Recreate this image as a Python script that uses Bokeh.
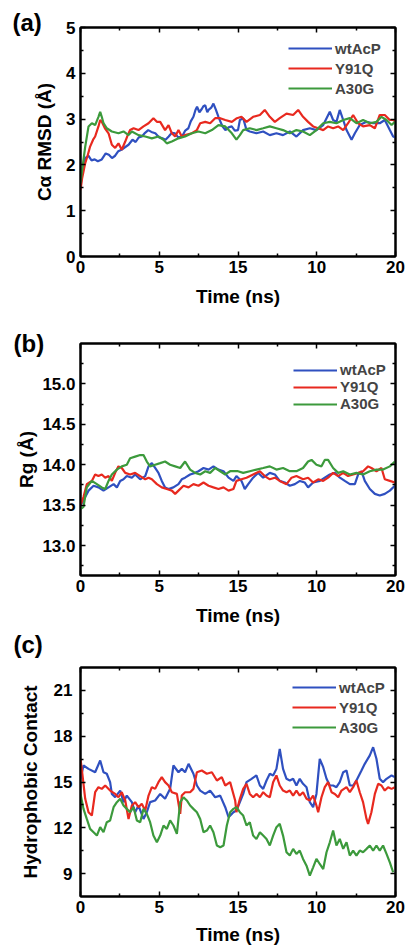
from bokeh.plotting import figure
from bokeh.models import (FixedTicker, LinearAxis, Range1d, Legend, LegendItem, Label,
                          NumeralTickFormatter, CustomJSTickFormatter)
from bokeh.core.properties import value
from bokeh.layouts import column
from bokeh.embed import file_html
from bokeh.resources import INLINE

# ---------------- data ----------------
series_names = ["wtAcP", "Y91Q", "A30G"]
x_ticks = [0, 5, 10, 15, 20]
x_tick_labels = ["0", "5", "15", "10", "20"]
x_minor = [2.5, 7.5, 12.5, 17.5]

# (a) C-alpha RMSD
rmsd_t_wt = [0.0, 0.1, 0.3, 0.5, 0.7, 0.9, 1.1, 1.35, 1.6, 1.8,
             2.0, 2.2, 2.4, 2.6, 2.8, 3.05, 3.3, 3.5, 3.7, 3.9,
             4.1, 4.3, 4.5, 4.75, 5.0, 5.2, 5.4, 5.6, 5.8, 6.0,
             6.2, 6.45, 6.65, 6.85, 7.0, 7.17, 7.3, 7.4, 7.55, 7.7,
             7.8, 7.92, 8.05, 8.13, 8.3, 8.44, 8.6, 8.76, 9.0, 9.2,
             9.4, 9.6, 9.8, 10.0, 10.12, 10.33, 10.54, 10.75, 11.17, 11.6,
             12.02, 12.44, 12.86, 13.29, 13.71, 14.13, 14.56, 14.98, 15.41, 15.83,
             16.04, 16.25, 16.46, 16.68, 16.89, 17.21, 17.42, 17.73, 18.16, 18.58,
             19.0, 19.32, 19.64, 19.85, 20.0]
rmsd_wt = [1.5, 1.9, 2.15, 2.2, 2.1, 2.12, 2.08, 2.12, 2.25, 2.22,
           2.15, 2.2, 2.3, 2.33, 2.38, 2.44, 2.55, 2.5, 2.6, 2.62,
           2.7, 2.76, 2.72, 2.69, 2.6, 2.58, 2.55, 2.62, 2.7, 2.69,
           2.6, 2.62, 2.75, 2.8, 2.95, 3.05, 3.2, 3.27, 3.15, 3.22,
           3.28, 3.3, 3.15, 3.2, 3.25, 3.34, 3.2, 3.05, 2.85, 2.76,
           2.82, 2.84, 2.75, 2.76, 2.98, 3.02, 2.76, 2.73, 2.69, 2.73,
           2.65, 2.69, 2.65, 2.73, 2.62, 2.76, 2.8, 2.76, 2.87, 3.16,
           2.98, 2.94, 3.2, 2.98, 2.76, 2.55, 2.69, 2.87, 2.94, 2.91,
           2.91, 2.98, 2.76, 2.62, 2.6]
rmsd_t_y91 = [0.0, 0.1, 0.3, 0.45, 0.61, 0.8, 0.93, 1.14, 1.25, 1.35,
              1.55, 1.78, 1.99, 2.2, 2.41, 2.62, 2.84, 3.0, 3.15, 3.37,
              3.68, 4.0, 4.32, 4.63, 4.85, 5.06, 5.37, 5.59, 5.8, 6.01,
              6.22, 6.43, 6.64, 7.07, 7.39, 7.6, 7.92, 8.23, 8.55, 8.87,
              9.19, 9.61, 9.93, 10.22, 10.54, 10.96, 11.39, 11.7, 12.02, 12.34,
              12.65, 13.08, 13.5, 13.82, 14.13, 14.45, 14.77, 15.09, 15.41, 15.72,
              16.04, 16.36, 16.68, 16.99, 17.31, 17.63, 17.94, 18.37, 18.69, 19.0,
              19.32, 19.64, 19.85, 20.0]
rmsd_y91 = [1.45, 1.7, 2.04, 2.2, 2.4, 2.55, 2.62, 2.84, 2.98, 2.94,
            2.8, 2.69, 2.44, 2.37, 2.47, 2.33, 2.51, 2.65, 2.76, 2.8,
            2.76, 2.84, 2.91, 3.02, 2.94, 2.94, 2.76, 2.87, 2.69, 2.62,
            2.76, 2.62, 2.65, 2.69, 2.76, 2.91, 2.94, 2.91, 3.02, 3.02,
            2.98, 2.94, 3.02, 3.05, 2.94, 3.05, 3.09, 3.2, 3.05, 2.94,
            3.02, 3.12, 3.09, 3.2, 3.05, 2.94, 2.84, 2.8, 2.76, 2.84,
            2.8, 2.84, 2.76, 2.91, 3.09, 2.91, 2.84, 2.87, 2.8, 3.09,
            3.09, 2.98, 2.98, 2.95]
rmsd_t_a30 = [0.0, 0.08, 0.3, 0.51, 0.72, 0.93, 1.14, 1.25, 1.35, 1.46,
              1.67, 1.99, 2.41, 2.73, 3.05, 3.26, 3.68, 4.11, 4.53, 4.95,
              5.27, 5.48, 5.8, 6.22, 6.64, 7.07, 7.49, 7.92, 8.34, 8.76,
              9.19, 9.61, 9.9, 10.12, 10.33, 10.75, 11.17, 11.6, 12.02, 12.44,
              12.86, 13.29, 13.71, 14.13, 14.56, 14.98, 15.41, 15.83, 16.25, 16.68,
              17.1, 17.52, 17.94, 18.37, 18.79, 19.11, 19.43, 19.75, 19.96]
rmsd_a30 = [1.6, 1.83, 2.4, 2.84, 2.91, 2.87, 3.05, 3.16, 3.05, 2.91,
            2.8, 2.73, 2.69, 2.73, 2.65, 2.73, 2.65, 2.62, 2.58, 2.62,
            2.55, 2.47, 2.51, 2.58, 2.62, 2.69, 2.73, 2.69, 2.76, 2.87,
            2.84, 2.69, 2.55, 2.65, 2.76, 2.8, 2.76, 2.8, 2.84, 2.8,
            2.76, 2.69, 2.76, 2.73, 2.65, 2.76, 2.91, 2.94, 2.91, 2.98,
            3.02, 2.91, 2.98, 2.91, 2.94, 3.05, 2.98, 2.87, 2.94]

# (b) Radius of gyration
rg_t_wt = [0.0, 0.19, 0.51, 0.83, 1.14, 1.46, 1.78, 2.1, 2.31, 2.52,
           2.73, 2.94, 3.26, 3.47, 3.79, 4.11, 4.32, 4.53, 4.74, 4.95,
           5.16, 5.37, 5.59, 5.9, 6.22, 6.43, 6.64, 6.96, 7.28, 7.49,
           7.81, 8.13, 8.44, 8.76, 9.08, 9.4, 9.71, 9.9, 10.22, 10.43,
           10.65, 10.96, 11.28, 11.6, 12.02, 12.34, 12.65, 12.97, 13.29, 13.61,
           13.93, 14.24, 14.45, 14.77, 15.2, 15.51, 15.83, 16.15, 16.47, 16.78,
           17.1, 17.42, 17.63, 17.84, 18.05, 18.37, 18.69, 19.0, 19.32, 19.64,
           19.96]
rg_wt = [13.5, 13.56, 13.68, 13.74, 13.72, 13.68, 13.72, 13.76, 13.72, 13.8,
         13.82, 13.86, 13.84, 13.88, 13.82, 13.86, 13.98, 14.02, 13.96, 13.9,
         13.8, 13.72, 13.7, 13.72, 13.76, 13.82, 13.84, 13.88, 13.9, 13.92,
         13.96, 13.94, 13.98, 13.94, 13.92, 13.84, 13.8, 13.86, 13.8, 13.7,
         13.76, 13.84, 13.9, 13.84, 13.9, 13.88, 13.8, 13.78, 13.74, 13.76,
         13.8, 13.78, 13.72, 13.78, 13.8, 13.84, 13.88, 13.9, 13.84, 13.8,
         13.76, 13.76, 13.88, 13.92, 13.8, 13.7, 13.64, 13.62, 13.64, 13.68,
         13.74]
rg_t_y91 = [0.0, 0.19, 0.4, 0.72, 0.93, 1.14, 1.35, 1.57, 1.78, 1.99,
            2.2, 2.41, 2.62, 2.84, 3.15, 3.47, 3.79, 4.11, 4.32, 4.53,
            4.85, 5.16, 5.48, 5.8, 6.01, 6.22, 6.54, 6.86, 7.17, 7.49,
            7.81, 8.13, 8.44, 8.76, 9.08, 9.4, 9.71,
            9.9, 10.22, 10.54,
            10.96, 11.39, 11.7, 12.02, 12.34, 12.65, 13.08, 13.4, 13.71, 14.13,
            14.45, 14.77, 15.09, 15.41, 15.72, 16.04, 16.36, 16.68, 16.99, 17.31,
            17.63, 17.94, 18.26, 18.47, 18.79, 19.11, 19.32, 19.64, 19.96]
rg_y91 = [13.5, 13.6, 13.76, 13.8, 13.88, 13.86, 13.88, 13.84, 13.86, 13.8,
          13.9, 13.98, 13.96, 13.9, 13.88, 13.9, 13.86, 13.82, 13.84, 13.82,
          13.76, 13.72, 13.7, 13.68, 13.64, 13.68, 13.74, 13.72, 13.76, 13.74,
          13.78, 13.74, 13.72, 13.7, 13.72, 13.68, 13.7,
          13.8, 13.82, 13.84,
          13.88, 13.92, 13.86, 13.82, 13.84, 13.8, 13.76, 13.84, 13.86, 13.82,
          13.84, 13.78, 13.82, 13.8, 13.84, 13.9, 13.86, 13.9, 13.86, 13.88,
          13.9, 13.92, 13.98, 13.96, 13.92, 13.96, 13.82, 13.8, 13.78]
rg_t_a30 = [0.0, 0.19, 0.4, 0.72, 1.04, 1.35, 1.57, 1.78, 1.99, 2.31,
            2.62, 2.94, 3.15, 3.47, 3.79, 4.0, 4.21, 4.42, 4.74, 5.06,
            5.37, 5.69, 6.01, 6.33, 6.64, 6.96, 7.28, 7.6, 7.92, 8.23,
            8.55, 8.87, 9.19, 9.5, 9.82,
            10.0, 10.33, 10.75, 11.17, 11.6, 12.02, 12.44, 12.86, 13.29, 13.71,
            14.13, 14.45, 14.67, 14.98, 15.3, 15.51, 15.72, 16.04, 16.36, 16.68,
            17.1, 17.52, 17.94, 18.37, 18.79, 19.21, 19.64, 19.96]
rg_a30 = [13.45, 13.48, 13.72, 13.8, 13.76, 13.72, 13.7, 13.8, 13.88, 13.94,
          13.98, 14.0, 14.08, 14.1, 14.12, 14.12, 14.04, 13.98, 14.0, 14.02,
          14.04, 14.0, 13.98, 13.96, 14.04, 13.94, 13.9, 13.88, 13.92, 13.9,
          13.96, 13.92, 13.88, 13.92, 13.92,
          13.92, 13.9, 13.92, 13.94, 13.96, 13.98, 13.94, 13.96, 13.92, 13.92,
          13.96, 14.04, 14.06, 14.0, 13.98, 14.06, 14.06, 13.96, 13.9, 13.92,
          13.88, 13.9, 13.88, 13.92, 13.94, 13.94, 13.98, 14.04]

# (c) Hydrophobic contacts
hc_t_wt = [0.0, 0.19, 0.51, 0.93, 1.25, 1.46, 1.67, 1.88, 1.99, 2.2,
           2.52, 2.73, 2.94, 3.26, 3.47, 3.68, 4.0, 4.21, 4.42, 4.74,
           5.06, 5.37, 5.69, 5.9, 6.22, 6.43, 6.64, 6.86, 7.17, 7.39,
           7.6, 7.92, 8.23, 8.55, 8.87, 9.19, 9.4, 9.71,
           9.9, 10.12, 10.33, 10.54, 10.86, 11.17, 11.39, 11.6, 11.81, 12.02,
           12.23, 12.44, 12.65, 12.86, 13.08, 13.29, 13.5, 13.71, 13.92, 14.13,
           14.35, 14.56, 14.77, 14.98, 15.19, 15.41, 15.62, 15.83, 16.04, 16.25,
           16.46, 16.68, 16.89, 17.1, 17.31, 17.52, 17.84, 18.05, 18.37, 18.58,
           18.79, 19.0, 19.21, 19.43, 19.75, 19.96]
hc_wt = [15.21, 16.08, 15.86, 15.64, 16.41, 15.64, 15.54, 14.99, 14.22, 14.01,
         14.44, 13.68, 14.11, 13.68, 13.02, 13.46, 12.58, 13.02, 13.68, 13.79,
         14.22, 13.9, 14.55, 16.08, 15.64, 15.86, 15.64, 16.19, 15.54, 14.77,
         14.44, 14.22, 14.44, 14.0, 14.11, 13.35, 12.69, 13.02,
         13.13, 13.68, 14.22, 14.99, 15.21, 15.43, 14.77, 14.55, 15.1, 15.54,
         15.43, 15.86, 17.17, 15.86, 15.21, 15.1, 15.21, 14.77, 15.21, 14.88,
         14.66, 13.68, 13.35, 14.22, 16.52, 15.97, 15.21, 14.77, 14.77, 14.66,
         14.99, 15.64, 15.75, 14.77, 14.77, 15.1, 15.75, 16.19, 16.74, 17.28,
         16.52, 15.21, 14.99, 15.21, 15.43, 15.32]
hc_t_y91 = [0.0, 0.08, 0.3, 0.51, 0.72, 0.93, 1.14, 1.35, 1.57, 1.88,
            2.2, 2.41, 2.62, 2.84, 3.05, 3.26, 3.47, 3.68, 3.89, 4.11,
            4.32, 4.53, 4.74, 4.95, 5.16, 5.37, 5.59, 5.8, 6.12, 6.33,
            6.43, 6.64, 6.96, 7.17, 7.39, 7.7, 8.02, 8.34, 8.66, 8.97,
            9.19, 9.5, 9.82,
            9.9, 10.12, 10.33, 10.54, 10.75, 10.96, 11.17, 11.39, 11.6, 11.81,
            12.02, 12.23, 12.44, 12.65, 12.86, 13.08, 13.29, 13.5, 13.71, 13.92,
            14.13, 14.35, 14.56, 14.77, 14.98, 15.09, 15.3, 15.51, 15.72, 15.94,
            16.15, 16.36, 16.57, 16.89, 17.1, 17.31, 17.52, 17.73, 17.94, 18.16,
            18.26, 18.47, 18.69, 18.9, 19.11, 19.32, 19.53, 19.75, 19.96]
hc_y91 = [16.52, 15.86, 13.9, 13.02, 12.8, 14.33, 14.66, 14.55, 14.77, 14.44,
          14.22, 14.0, 14.33, 13.79, 12.58, 13.46, 13.68, 13.35, 13.57, 13.13,
          14.11, 14.66, 14.55, 14.99, 15.32, 14.99, 14.77, 14.33, 14.22, 12.91,
          14.11, 14.33, 14.33, 14.55, 15.64, 15.75, 15.54, 15.64, 15.1, 15.32,
          14.77, 14.99, 13.79,
          13.02, 13.9, 14.55, 14.88, 14.22, 14.0, 14.22, 14.0, 14.33, 14.11,
          14.0, 14.99, 15.43, 14.77, 14.44, 14.33, 14.44, 14.11, 14.44, 14.11,
          14.33, 13.9, 13.79, 14.11, 13.46, 13.02, 14.0, 14.66, 14.99, 14.33,
          14.22, 14.0, 14.44, 14.66, 14.33, 14.66, 15.1, 14.33, 13.68, 12.58,
          12.26, 13.02, 14.22, 14.88, 14.77, 14.44, 14.66, 14.55, 14.66]
hc_t_a30 = [0.0, 0.19, 0.4, 0.61, 0.83, 1.04, 1.25, 1.46, 1.67, 1.88,
            2.1, 2.31, 2.52, 2.73, 2.94, 3.15, 3.37, 3.58, 3.79, 4.0,
            4.21, 4.42, 4.63, 4.85, 5.06, 5.27, 5.48, 5.69, 5.9, 6.12,
            6.33, 6.54, 6.75, 6.96, 7.17, 7.39, 7.6, 7.81, 8.02, 8.23,
            8.44, 8.66, 8.87, 9.08, 9.29, 9.5, 9.71,
            9.9, 10.12, 10.33, 10.54, 10.75, 10.96, 11.17, 11.39, 11.6, 11.81,
            12.02, 12.23, 12.44, 12.65, 12.86, 13.08, 13.29, 13.5, 13.71, 13.92,
            14.13, 14.35, 14.56, 14.77, 14.98, 15.19, 15.41, 15.62, 15.83, 16.04,
            16.25, 16.46, 16.68, 16.89, 17.1, 17.31, 17.52, 17.73, 17.94, 18.16,
            18.37, 18.58, 18.79, 19.0, 19.21, 19.43, 19.64, 19.85]
hc_a30 = [14.22, 13.24, 12.58, 11.93, 11.71, 11.49, 12.04, 11.71, 12.37, 12.48,
          13.35, 13.68, 13.9, 13.46, 13.24, 13.02, 13.35, 12.48, 12.37, 13.24,
          12.91, 12.37, 11.49, 11.05, 11.49, 12.15, 11.93, 12.48, 12.15, 11.6,
          13.68, 14.0, 13.79, 13.46, 13.24, 13.02, 12.58, 11.71, 11.82, 12.15,
          11.71, 10.84, 10.73, 10.84, 12.15, 13.02, 13.24,
          13.35, 13.02, 12.8, 12.15, 12.37, 11.49, 11.27, 11.71, 11.49, 11.27,
          10.84, 11.49, 12.04, 12.26, 11.49, 10.4, 10.18, 10.62, 10.29, 10.51,
          9.96, 9.52, 8.87, 9.41, 9.96, 9.63, 9.3, 10.4, 11.05, 11.82,
          10.84, 11.27, 10.62, 11.05, 10.18, 10.51, 10.18, 10.51, 10.4, 10.62,
          10.84, 10.51, 10.84, 10.51, 10.84, 10.29, 9.74, 9.09]

# ---------------- style ----------------
FONT = "Liberation Sans"
COLORS = ["#2f50c0", "#e8291f", "#3c9a3c"]
LINE_W = 2.2
BLANK = CustomJSTickFormatter(code="return ''")


def base_fig(h, top, bottom, yr):
    p = figure(width=408, height=h, x_range=Range1d(0, 20), y_range=Range1d(*yr),
               output_backend="svg", toolbar_location=None,
               min_border_left=80, min_border_right=13,
               min_border_top=top, min_border_bottom=bottom,
               background_fill_color="white", border_fill_color="white")
    p.grid.visible = False
    p.outline_line_color = "black"
    p.outline_line_width = 2
    return p


def style_axis(ax, ticks, minor, show, standoff=5):
    ax.ticker = FixedTicker(ticks=ticks, minor_ticks=minor)
    ax.axis_line_color = "black"
    ax.axis_line_width = 2
    ax.major_tick_in = 5
    ax.major_tick_out = 0
    ax.minor_tick_in = 3
    ax.minor_tick_out = 0
    ax.major_tick_line_color = "black"
    ax.minor_tick_line_color = "black"
    ax.major_tick_line_width = 1.5
    ax.minor_tick_line_width = 1.5
    ax.major_label_text_font = FONT
    ax.major_label_text_font_style = "bold"
    ax.major_label_text_color = "black"
    ax.major_label_text_font_size = "17px"
    if show:
        ax.major_label_standoff = standoff
    else:
        ax.formatter = BLANK
        ax.major_label_standoff = 0
    ax.axis_label_text_font = FONT
    ax.axis_label_text_font_style = "bold"
    ax.axis_label_text_font_size = "19px"
    ax.axis_label_text_color = "black"


def make_panel(h, top, bottom, yr, yticks, yminor, ylabel, ylab_standoff, ytick_standoff,
               series, legend_loc, row_h, tag, tag_x, tag_y, yfmt=None, xlab_standoff=10):
    p = base_fig(h, top, bottom, yr)
    xb = p.below[0]
    yl = p.left[0]
    style_axis(xb, x_ticks, x_minor, True, standoff=4)
    xb.major_label_overrides = {t: s for t, s in zip(x_ticks, x_tick_labels)}
    xb.axis_label = "Time (ns)"
    xb.axis_label_standoff = xlab_standoff
    style_axis(yl, yticks, yminor, True, standoff=ytick_standoff)
    yl.axis_label = ylabel
    yl.axis_label_standoff = ylab_standoff
    if yfmt is not None:
        yl.formatter = yfmt
    top_ax = LinearAxis()
    style_axis(top_ax, x_ticks, x_minor, False)
    p.add_layout(top_ax, "above")
    right_ax = LinearAxis()
    style_axis(right_ax, yticks, yminor, False)
    p.add_layout(right_ax, "right")

    rends = []
    for (tt, vv), c in zip(series, COLORS):
        rends.append(p.line(tt, vv, line_color=c, line_width=LINE_W))
    items = [LegendItem(label=value(n), renderers=[r]) for n, r in zip(series_names, rends)]
    lg = Legend(items=items, location=legend_loc, margin=0, padding=4, spacing=0,
                glyph_width=44, glyph_height=row_h, label_height=row_h, label_standoff=3,
                label_text_font=FONT, label_text_font_style="bold",
                label_text_font_size="15px", border_line_color=None,
                background_fill_alpha=0)
    p.add_layout(lg)

    # panel tag, placed in the top side panel (not clipped by the frame)
    p.add_layout(Label(x=tag_x, y=tag_y, x_units="screen", y_units="screen", text=tag,
                       text_font=FONT, text_font_style="bold", text_font_size="24px",
                       text_align="left", text_baseline="middle", text_color="black"),
                 "above")
    return p


pa = make_panel(316, 25, 60, (0, 5), [0, 1, 2, 3, 4, 5], [0.5, 1.5, 2.5, 3.5, 4.5],
                "Cα RMSD (Å)", 8, 5,
                [(rmsd_t_wt, rmsd_wt), (rmsd_t_y91, rmsd_y91), (rmsd_t_a30, rmsd_a30)],
                (208, 158), 20, "(a)", -68, 5)

pb = make_panel(312, 22, 53, (12.63, 15.5), [13.0, 13.5, 14.0, 14.5, 15.0],
                [12.75, 13.25, 13.75, 14.25, 14.75, 15.25],
                "Rg (Å)", 2, 5,
                [(rg_t_wt, rg_wt), (rg_t_y91, rg_y91), (rg_t_a30, rg_a30)],
                (213, 163), 14, "(b)", -67, 0,
                yfmt=NumeralTickFormatter(format="0.0"))

pc = make_panel(320, 39, 52, (7.5, 22.5), [9, 12, 15, 18, 21], [10.5, 13.5, 16.5, 19.5],
                "Hydrophobic Contact", 10, 8,
                [(hc_t_wt, hc_wt), (hc_t_y91, hc_y91), (hc_t_a30, hc_a30)],
                (212, 159), 20, "(c)", -67, 23, xlab_standoff=8)

layout = column(pa, pb, pc)
open("out.html", "w").write(file_html(layout, INLINE))
